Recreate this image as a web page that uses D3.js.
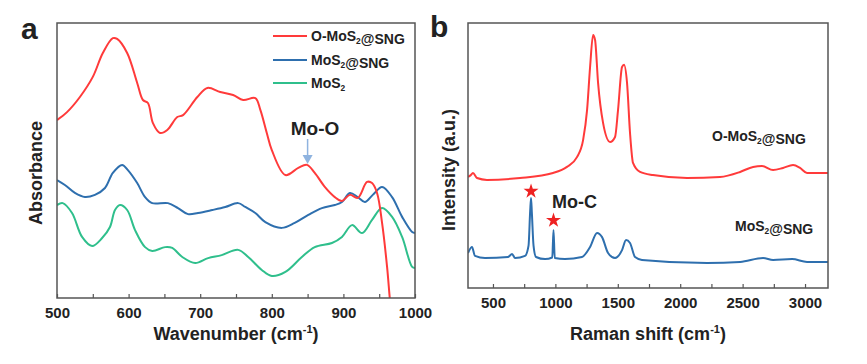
<!DOCTYPE html>
<html><head><meta charset="utf-8">
<script src="https://cdn.jsdelivr.net/npm/d3@7"></script>
<style>body{margin:0;background:#fff}svg{display:block}text{font-family:"Liberation Sans",Arial,sans-serif;font-weight:bold;fill:#222}</style>
</head><body><svg id="c" width="867" height="364"></svg>
<script>
// ---- Panel a: FTIR (wavenumber, absorbance a.u.)
const ftirRed = [[500,0.647],[514,0.676],[532,0.731],[550,0.804],[564,0.891],[578,0.945],[584,0.942],[598,0.891],[612,0.782],[620,0.720],[627,0.709],[634,0.636],[644,0.600],[654,0.611],[668,0.658],[676,0.665],[696,0.731],[710,0.764],[728,0.749],[746,0.738],[760,0.720],[777,0.727],[784,0.684],[793,0.600],[800,0.538],[819,0.447],[837,0.473],[849,0.484],[860,0.455],[874,0.404],[888,0.367],[898,0.353],[909,0.375],[920,0.364],[933,0.422],[940,0.418],[947,0.382],[954,0.273],[961,0.113],[965,-0.007],[968,-0.08]];
const ftirBlue = [[500,0.429],[511,0.411],[525,0.382],[539,0.367],[553,0.375],[567,0.400],[578,0.455],[591,0.484],[599,0.465],[612,0.418],[623,0.367],[633,0.345],[655,0.345],[669,0.327],[683,0.305],[697,0.309],[717,0.320],[735,0.331],[753,0.345],[763,0.331],[777,0.309],[791,0.276],[814,0.255],[832,0.273],[851,0.302],[870,0.327],[888,0.338],[898,0.349],[909,0.382],[920,0.367],[930,0.349],[941,0.375],[954,0.404],[968,0.367],[982,0.295],[996,0.240],[1000,0.236]];
const ftirGreen = [[500,0.338],[508,0.345],[521,0.309],[535,0.222],[549,0.189],[563,0.218],[574,0.258],[581,0.320],[588,0.338],[598,0.320],[609,0.247],[623,0.185],[633,0.171],[651,0.185],[661,0.182],[675,0.149],[693,0.127],[711,0.145],[730,0.156],[753,0.175],[767,0.149],[786,0.102],[800,0.080],[819,0.095],[842,0.149],[860,0.185],[884,0.200],[898,0.222],[912,0.265],[926,0.236],[940,0.284],[954,0.327],[968,0.295],[982,0.222],[996,0.113],[1000,0.109]];
const ftirNames = ["O-MoS2@SNG","MoS2@SNG","MoS2"];
const ftirTicks = [500,600,700,800,900,1000];

// ---- Panel b: Raman (shift, intensity a.u.)
const ramanRed = [[300,0.419],[320,0.425],[340,0.434],[372,0.415],[452,0.408],[717,0.415],[981,0.434],[1093,0.457],[1173,0.494],[1222,0.558],[1254,0.672],[1278,0.834],[1302,0.955],[1318,0.936],[1342,0.774],[1382,0.623],[1438,0.551],[1478,0.570],[1502,0.672],[1534,0.834],[1550,0.842],[1574,0.774],[1598,0.585],[1622,0.472],[1678,0.438],[1782,0.426],[2055,0.415],[2319,0.419],[2480,0.438],[2584,0.457],[2656,0.460],[2744,0.445],[2824,0.453],[2904,0.464],[2960,0.453],[3016,0.434],[3200,0.434]];
const ramanBlue = [[300,0.132],[332,0.155],[356,0.121],[436,0.113],[621,0.117],[653,0.128],[677,0.113],[757,0.121],[785,0.16],[798,0.29],[805,0.340],[812,0.28],[825,0.16],[845,0.117],[917,0.109],[975,0.115],[985,0.219],[995,0.113],[1077,0.109],[1213,0.117],[1278,0.155],[1334,0.208],[1374,0.192],[1422,0.132],[1478,0.113],[1534,0.143],[1566,0.181],[1598,0.170],[1638,0.117],[1694,0.106],[2215,0.094],[2480,0.098],[2664,0.113],[2744,0.106],[2896,0.109],[3016,0.098],[3200,0.098]];
const ramanStars = [[805,0.365],[985,0.255]];
const ramanTicks = [500,1000,1500,2000,2500,3000];

const colors = {red:"#ff3a3a", blue:"#2e6fae", green:"#2fbf8c"};
const svg = d3.select("#c");

function frame(g, x0, y0, w, h) {
  g.append("rect").attr("x",x0).attr("y",y0).attr("width",w).attr("height",h)
   .attr("fill","none").attr("stroke","#555").attr("stroke-width",1.5);
}
function sub2(t, s){ // add subscript "2" in text
  const parts = s.split("2");
  t.text(null);
  parts.forEach((p,i)=>{
    t.append("tspan").text(p);
    if(i<parts.length-1){ t.append("tspan").attr("font-size","0.6em").attr("dy","0.3em").text("2");
      t.append("tspan").attr("dy","-0.3em").text(""); }
  });
}

// ===== Panel a =====
const ax = d3.scaleLinear().domain([500,1000]).range([57,415]);
const ay = d3.scaleLinear().domain([0,1]).range([298,23]);
svg.append("clipPath").attr("id","ca").append("rect").attr("x",57).attr("y",23).attr("width",358).attr("height",275);
const ga = svg.append("g");
const lineA = d3.line().x(d=>ax(d[0])).y(d=>ay(d[1])).curve(d3.curveCatmullRom.alpha(0.5));
[[ftirGreen,colors.green],[ftirBlue,colors.blue],[ftirRed,colors.red]].forEach(([d,c])=>{
  ga.append("path").datum(d).attr("d",lineA).attr("fill","none").attr("stroke",c).attr("stroke-width",2).attr("clip-path","url(#ca)");
});
frame(ga,57,23,358,275);
const axA = d3.axisBottom(ax).tickValues(d3.range(500,1001,50)).tickSize(-4).tickFormat(d=>ftirTicks.includes(d)?d:"").tickPadding(9);
const gaa = ga.append("g").attr("transform","translate(0,298)").call(axA);
gaa.select(".domain").remove();
gaa.selectAll("line").attr("stroke","#555").attr("stroke-width",1.2);
gaa.selectAll("text").attr("font-size",15).attr("fill","#222").attr("font-family","Liberation Sans, Arial, sans-serif");
ga.append("text").attr("x",236).attr("y",340).attr("text-anchor","middle").attr("font-size",18)
  .html('Wavenumber (cm<tspan font-size="11" dy="-7">-1</tspan><tspan dy="7">)</tspan>');
ga.append("text").attr("transform","translate(42,173) rotate(-90)").attr("text-anchor","middle").attr("font-size",18).text("Absorbance");
ga.append("text").attr("x",21).attr("y",39).attr("font-size",30).text("a");
// legend
[[colors.red,ftirNames[0],36],[colors.blue,ftirNames[1],60],[colors.green,ftirNames[2],83]].forEach(([c,n,y])=>{
  ga.append("line").attr("x1",273).attr("x2",307).attr("y1",y).attr("y2",y).attr("stroke",c).attr("stroke-width",2);
  const t = ga.append("text").attr("x",311).attr("y",y+5).attr("font-size",14);
  sub2(t,n);
});
// Mo-O annotation
ga.append("text").attr("x",315).attr("y",135).attr("text-anchor","middle").attr("font-size",19).text("Mo-O");
ga.append("line").attr("x1",ax(850)).attr("x2",ax(850)).attr("y1",139).attr("y2",156).attr("stroke","#8fb3df").attr("stroke-width",1.5);
ga.append("path").attr("d",`M${ax(850)-5},155 L${ax(850)+5},155 L${ax(850)},164 Z`).attr("fill","#8fb3df");

// ===== Panel b =====
const bx = d3.scaleLinear().domain([300,3200]).range([468,830]);
const by = d3.scaleLinear().domain([0,1]).range([288,23]);
svg.append("clipPath").attr("id","cb").append("rect").attr("x",468).attr("y",23).attr("width",360).attr("height",265);
const gb = svg.append("g");
const lineB = d3.line().x(d=>bx(d[0])).y(d=>by(d[1])).curve(d3.curveMonotoneX);
[[ramanBlue,colors.blue],[ramanRed,colors.red]].forEach(([d,c])=>{
  gb.append("path").datum(d).attr("d",lineB).attr("fill","none").attr("stroke",c).attr("stroke-width",2).attr("clip-path","url(#cb)");
});
frame(gb,468,23,360,265);
const axB = d3.axisBottom(bx).tickValues(d3.range(500,3001,250)).tickSize(-4).tickFormat(d=>ramanTicks.includes(d)?d:"").tickPadding(9);
const gba = gb.append("g").attr("transform","translate(0,288)").call(axB);
gba.select(".domain").remove();
gba.selectAll("line").attr("stroke","#555").attr("stroke-width",1.2);
gba.selectAll("text").attr("font-size",15).attr("fill","#222").attr("font-family","Liberation Sans, Arial, sans-serif");
gb.append("text").attr("x",648).attr("y",340).attr("text-anchor","middle").attr("font-size",18)
  .html('Raman shift (cm<tspan font-size="11" dy="-7">-1</tspan><tspan dy="7">)</tspan>');
gb.append("text").attr("transform","translate(455,170) rotate(-90)").attr("text-anchor","middle").attr("font-size",18).text("Intensity (a.u.)");
gb.append("text").attr("x",430).attr("y",37).attr("font-size",30).text("b");
const t1 = gb.append("text").attr("x",712).attr("y",141).attr("font-size",14); sub2(t1,"O-MoS2@SNG");
const t2 = gb.append("text").attr("x",735).attr("y",231).attr("font-size",14); sub2(t2,"MoS2@SNG");
gb.append("text").attr("x",552).attr("y",208).attr("font-size",18).text("Mo-C");
gb.selectAll("path.star").data(ramanStars).join("path").attr("class","star")
  .attr("transform",d=>`translate(${bx(d[0])},${by(d[1])})`)
  .attr("d",d3.symbol(d3.symbolStar,70)).attr("fill","#ee2222");
</script></body></html>
